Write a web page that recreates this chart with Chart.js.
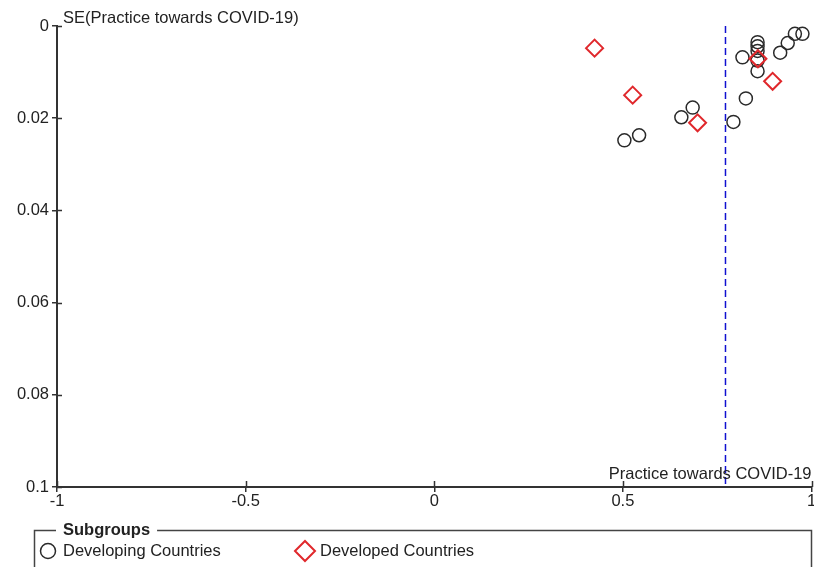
<!DOCTYPE html>
<html>
<head>
<meta charset="utf-8">
<title>Funnel plot – Practice towards COVID-19</title>
<script src="https://cdn.jsdelivr.net/npm/chart.js@4"></script>
<style>
  html, body { margin: 0; padding: 0; background: #ffffff; overflow: hidden; }
  #frame { width: 814px; height: 567px; overflow: hidden; }
  canvas { display: block; }
</style>
</head>
<body>
<div id="frame"><canvas id="funnel" width="822" height="567"></canvas></div>
<script>
// Study effect sizes (x) and their standard errors (y), by subgroup
const developingEffect = [0.504, 0.543, 0.655, 0.685, 0.793, 0.826, 0.817,
                          0.857, 0.857, 0.857, 0.857, 0.857,
                          0.917, 0.937, 0.956, 0.976];
const developingSE     = [0.0248, 0.0237, 0.0198, 0.0177, 0.0208, 0.0157, 0.0068,
                          0.0035, 0.0044, 0.0054, 0.0075, 0.0098,
                          0.0058, 0.0037, 0.0017, 0.0017];
const developedEffect  = [0.425, 0.526, 0.698, 0.858, 0.897];
const developedSE      = [0.0048, 0.0150, 0.0210, 0.0071, 0.0120];

// Pooled estimate shown as the vertical reference line
const pooledEffect = 0.772;
const seRange = [0, 0.1];

// Axis ticks
const xTicks = [-1, -0.5, 0, 0.5, 1];
const yTicks = [0, 0.02, 0.04, 0.06, 0.08, 0.1];

const subgroupLabels = ['Developing Countries', 'Developed Countries'];
const legendTitle = 'Subgroups';
const yAxisCaption = 'SE(Practice towards COVID-19)';
const xAxisCaption = 'Practice towards COVID-19';

const FONT = '"Liberation Sans", Arial, sans-serif';
const INK = '#222222';
const AXIS = '#333333';

Chart.defaults.font.family = FONT;
Chart.defaults.font.size = 16.5;
Chart.defaults.color = INK;

const toPoints = (xs, ys) => xs.map((x, i) => ({ x, y: ys[i] }));
const plainNumber = v => String(Math.round(v * 1000) / 1000);

// Captions, inner tick marks and the framed subgroup legend
const decorations = {
  id: 'decorations',
  afterDraw(chart) {
    const { ctx, chartArea, scales } = chart;
    const xs = scales.x, ys = scales.y;
    ctx.save();

    // tick marks crossing into the plot area
    ctx.strokeStyle = AXIS;
    ctx.lineWidth = 1.5;
    ctx.beginPath();
    xTicks.forEach(v => {
      const px = Math.round(xs.getPixelForValue(v)) + 0.5;
      ctx.moveTo(px, chartArea.bottom);
      ctx.lineTo(px, chartArea.bottom - 6);
    });
    yTicks.forEach(v => {
      const py = Math.round(ys.getPixelForValue(v)) + 0.5;
      ctx.moveTo(chartArea.left, py);
      ctx.lineTo(chartArea.left + 5, py);
    });
    ctx.stroke();

    // axis captions
    ctx.fillStyle = INK;
    ctx.font = '16.5px ' + FONT;
    ctx.textBaseline = 'alphabetic';
    ctx.textAlign = 'left';
    ctx.fillText(yAxisCaption, chartArea.left + 6, chartArea.top - 3);
    ctx.textAlign = 'right';
    ctx.fillText(xAxisCaption, chartArea.right, chartArea.bottom - 8);

    // legend frame with its title set into the top edge
    const frame = { left: 34.5, top: 530.5, right: 811.5, bottom: 600 };
    ctx.font = 'bold 16.5px ' + FONT;
    const titleX = 63;
    const titleW = ctx.measureText(legendTitle).width;
    ctx.strokeStyle = '#444444';
    ctx.lineWidth = 1.5;
    ctx.beginPath();
    ctx.moveTo(titleX - 7, frame.top);
    ctx.lineTo(frame.left, frame.top);
    ctx.lineTo(frame.left, frame.bottom);
    ctx.moveTo(titleX + titleW + 7, frame.top);
    ctx.lineTo(frame.right, frame.top);
    ctx.lineTo(frame.right, frame.bottom);
    ctx.stroke();
    ctx.textAlign = 'left';
    ctx.textBaseline = 'middle';
    ctx.fillStyle = INK;
    ctx.fillText(legendTitle, titleX, frame.top);

    // legend entries, styled from the datasets
    const entries = [
      { ds: chart.data.datasets[1], markX: 48, textX: 63, r: 7.5 },
      { ds: chart.data.datasets[2], markX: 305, textX: 320, r: 10 }
    ];
    ctx.font = '16.5px ' + FONT;
    entries.forEach(e => {
      const y = 551;
      ctx.strokeStyle = e.ds.borderColor;
      ctx.fillStyle = 'rgba(0,0,0,0)';
      ctx.lineWidth = e.ds.borderWidth;
      ctx.beginPath();
      Chart.helpers.drawPoint(ctx, {
        pointStyle: e.ds.pointStyle, radius: e.r, rotation: 0, borderWidth: e.ds.borderWidth
      }, e.markX, y);
      ctx.fillStyle = INK;
      ctx.fillText(e.ds.label, e.textX, y);
    });

    ctx.restore();
  }
};

new Chart(document.getElementById('funnel'), {
  type: 'scatter',
  data: {
    datasets: [
      {
        label: 'Pooled estimate',
        type: 'line',
        data: [{ x: pooledEffect, y: seRange[0] }, { x: pooledEffect, y: seRange[1] }],
        borderColor: '#1010d0',
        borderWidth: 1.5,
        borderDash: [7, 4],
        pointRadius: 0,
        fill: false,
        order: 3
      },
      {
        label: subgroupLabels[0],
        data: toPoints(developingEffect, developingSE),
        pointStyle: 'circle',
        pointRadius: 6.5,
        borderColor: '#2a2a2a',
        backgroundColor: 'rgba(0,0,0,0)',
        borderWidth: 1.5,
        order: 2
      },
      {
        label: subgroupLabels[1],
        data: toPoints(developedEffect, developedSE),
        pointStyle: 'rectRot',
        pointRadius: 8.5,
        borderColor: '#e0282c',
        backgroundColor: 'rgba(0,0,0,0)',
        borderWidth: 2,
        order: 1
      }
    ]
  },
  options: {
    responsive: false,
    animation: false,
    events: [],
    layout: { padding: { top: 26, bottom: 47, left: 0, right: 2 } },
    plugins: {
      legend: { display: false },
      tooltip: { enabled: false },
      title: { display: false }
    },
    scales: {
      x: {
        type: 'linear',
        min: xTicks[0],
        max: xTicks[xTicks.length - 1],
        afterBuildTicks: s => { s.ticks = xTicks.map(v => ({ value: v })); },
        afterFit: s => { s.height = 33; },
        border: { color: AXIS, width: 2 },
        grid: { drawOnChartArea: false, drawTicks: true, tickLength: 5, color: AXIS, lineWidth: 1.5 },
        ticks: { padding: 0, color: INK, maxRotation: 0, font: { size: 16.5 }, callback: plainNumber }
      },
      y: {
        type: 'linear',
        reverse: true,
        min: seRange[0],
        max: seRange[1],
        afterBuildTicks: s => { s.ticks = yTicks.map(v => ({ value: v })); },
        afterFit: s => { s.width = 57; },
        border: { color: AXIS, width: 2 },
        grid: { drawOnChartArea: false, drawTicks: true, tickLength: 5, color: AXIS, lineWidth: 1.5 },
        ticks: { padding: 3, color: INK, font: { size: 16.5 }, callback: plainNumber }
      }
    }
  },
  plugins: [decorations]
});
</script>
</body>
</html>
